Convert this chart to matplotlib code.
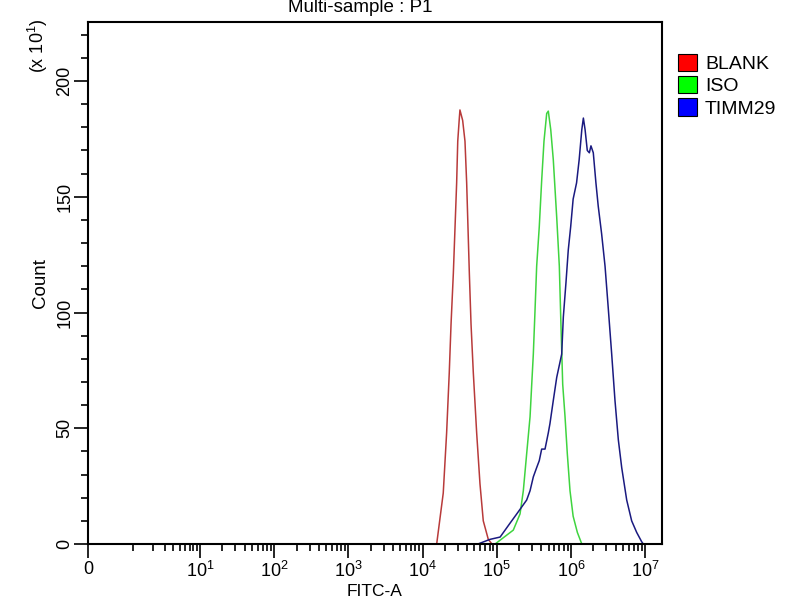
import numpy as np
import matplotlib
matplotlib.use("Agg")
import matplotlib.pyplot as plt
from matplotlib.patches import Patch
from matplotlib.ticker import FixedLocator, NullFormatter

plt.rcParams['font.family'] = ['Liberation Sans', 'DejaVu Sans']
plt.rcParams['mathtext.fontset'] = 'custom'
plt.rcParams['mathtext.rm'] = 'Liberation Sans'
plt.rcParams['mathtext.it'] = 'Liberation Sans'

# ---- data (FITC-A intensity, count in units of 10^1) ----
blank_x = [1.55e4, 1.90e4, 2.11e4, 2.29e4, 2.42e4, 2.60e4, 2.74e4, 2.88e4, 2.98e4, 3.13e4,
           3.19e4, 3.47e4, 3.73e4, 3.93e4, 4.27e4, 4.50e4, 4.83e4, 5.36e4, 5.94e4, 6.58e4,
           7.69e4, 8.6e4]
blank_y = [0, 22, 48, 74, 95, 117, 137, 156, 174, 184,
           187.5, 183, 174, 156, 117, 95, 74, 48, 26, 10,
           2, 0]

iso_x = [9.5e4, 1.67e5, 2.06e5, 2.28e5, 2.53e5, 2.81e5, 2.96e5, 3.11e5, 3.27e5, 3.45e5,
         3.74e5, 4.03e5, 4.33e5, 4.71e5, 4.95e5, 5.34e5, 5.78e5, 6.43e5, 6.97e5, 7.28e5,
         7.74e5, 8.32e5, 8.93e5, 9.71e5, 1.07e6, 1.22e6, 1.40e6]
iso_y = [0, 6, 13, 23, 39, 55, 69, 82, 100, 120,
         137, 157, 174, 186, 187, 179, 166, 141, 120, 98,
         69, 55, 39, 23, 12, 5, 0]

timm_x = [5.58e4, 8.11e4, 1.11e5, 1.51e5, 1.86e5, 2.17e5, 2.53e5, 2.81e5, 3.11e5, 3.45e5,
          3.74e5, 4.03e5, 4.47e5, 4.95e5, 5.21e5, 5.78e5, 6.43e5, 7.50e5, 7.89e5, 8.57e5,
          9.20e5, 9.91e5, 1.07e6, 1.19e6, 1.29e6, 1.40e6, 1.47e6, 1.55e6, 1.66e6, 1.77e6,
          1.86e6, 2.00e6, 2.17e6, 2.33e6, 2.59e6, 2.88e6, 3.18e6, 3.54e6, 3.92e6, 4.35e6,
          4.83e6, 5.64e6, 6.58e6, 7.69e6, 8.97e6, 9.44e6]
timm_y = [0, 2, 3, 9, 13, 16, 19, 23, 29, 33,
          36, 41, 41, 48, 52, 62, 72, 82, 98, 113,
          127, 137, 149, 156, 166, 179, 184, 179, 170, 169,
          172, 169, 156, 146, 134, 120, 102, 82, 62, 45,
          33, 19, 10, 5, 1, 0]

labels = ['BLANK', 'ISO', 'TIMM29']
line_colors = ['#b83a3a', '#3fd43f', '#1a1a80']
legend_colors = ['#ff0000', '#00ff00', '#0000ff']
xtick_vals = [0, 1e1, 1e2, 1e3, 1e4, 1e5, 1e6, 1e7]
xtick_labels = ['0', '$10^{1}$', '$10^{2}$', '$10^{3}$', '$10^{4}$', '$10^{5}$', '$10^{6}$', '$10^{7}$']
ytick_vals = [0, 50, 100, 150, 200]

# ---- biexponential-like display scale ----
OFF = 0.509
P1 = 0.606
SQ = 0.903

def fwd(x):
    x = np.asarray(x, dtype=float)
    xs = np.maximum(x, 1e-300)
    return np.where(x >= 10, np.log10(xs) + OFF,
                    np.where(x >= 1, P1 + SQ * np.log10(xs), P1 * x))

def inv(p):
    p = np.asarray(p, dtype=float)
    return np.where(p >= P1 + SQ, 10 ** (p - OFF),
                    np.where(p >= P1, 10 ** ((p - P1) / SQ), p / P1))

fig = plt.figure(figsize=(8, 6), dpi=100)
ax = fig.add_axes([88/800, 1 - 544/600, (662-88)/800, (544-22)/600])
ax.set_xscale('function', functions=(fwd, inv))

for xs, ys, c in zip([blank_x, iso_x, timm_x], [blank_y, iso_y, timm_y], line_colors):
    ax.plot(xs, ys, color=c, lw=1.1)

ax.set_xlim(0, 10 ** (7.736 - OFF))
ax.set_ylim(0, 225.5)

# ticks
ax.xaxis.set_major_locator(FixedLocator(xtick_vals))
ax.set_xticklabels(xtick_labels)
minors = list(range(1, 10))
for d in range(1, 7):
    minors += [k * 10 ** d for k in range(2, 10)]
ax.xaxis.set_minor_locator(FixedLocator([m for m in minors if m not in xtick_vals]))
ax.xaxis.set_minor_formatter(NullFormatter())

ax.yaxis.set_major_locator(FixedLocator(ytick_vals))
ax.yaxis.set_minor_locator(FixedLocator([v for v in range(0, 230, 10) if v not in ytick_vals]))
ax.set_yticklabels([str(v) for v in ytick_vals], rotation=90, va='center')

ax.tick_params(axis='both', which='major', length=10, width=1.2, direction='out', labelsize=13, colors='black')
ax.tick_params(axis='both', which='minor', length=5, width=1.2, direction='out')
ax.tick_params(axis='x', which='major', pad=2)
ax.tick_params(axis='y', which='major', pad=0.5)
for s in ax.spines.values():
    s.set_linewidth(1.5)

ax.set_xlabel('FITC-A', fontsize=12.5, labelpad=2)
ax.set_ylabel('Count', fontsize=13.5, labelpad=5)
fig.text(360/800, 1 - 8/600, 'Multi-sample : P1', ha='center', va='center', fontsize=13.5)
fig.text(38/800, 1 - 46/600, '(x 10$^{1}$)', rotation=90, ha='center', va='center', fontsize=13)

handles = [Patch(facecolor=c, edgecolor='black', lw=0.8) for c in legend_colors]
fig.legend(handles, labels, loc='upper left', bbox_to_anchor=(668/800, 1 - 44/600),
           frameon=False, fontsize=14, handlelength=1.0, handleheight=1.0,
           handletextpad=0.4, labelspacing=0.15, borderpad=0)

fig.savefig('out.png', dpi=100)
